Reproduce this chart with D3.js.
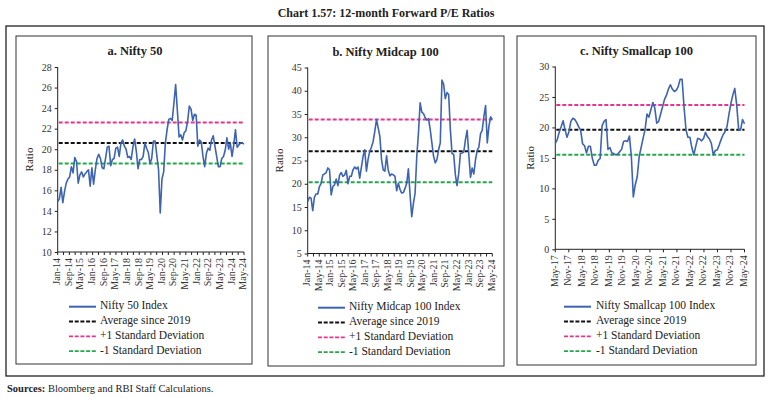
<!DOCTYPE html>
<html>
  <head>
    <meta charset="utf-8">
    <style>
      body { margin:0; background:#fff; }
      text { font-family: "Liberation Serif", "Times New Roman", serif; fill:#222; }
      .tick text { font-size:10px; fill:#333; }
      .domain, .tick line { stroke:#222; }
      .title { font-size:12px; font-weight:bold; }
      .ptitle { font-size:12.5px; font-weight:bold; }
      .legend text { font-size:11.5px; }
      .ylab { font-size:11px; }
      .src { font-size:10.5px; }
    </style>
    <script src="https://d3js.org/d3.v7.min.js"></script>
  </head>
  <body>
    <script>
      // tick labels
      const niftyTicks = ['Jan-14','Sep-14','May-15','Jan-16','Sep-16','May-17','Jan-18','Sep-18','May-19',
        'Jan-20','Sep-20','May-21','Jan-22','Sep-22','May-23','Jan-24','May-24']
      const midTicks = ['Jan-14','May-14','Jan-15','Sep-15','May-16','Jan-17','Sep-17','May-18','Jan-19',
        'Sep-19','May-20','Jan-21','Sep-21','May-22','Jan-23','Sep-23','May-24']
      const smallTicks = ['May-17','Nov-17','May-18','Nov-18','May-19','Nov-19','May-20','Nov-20','May-21',
        'Nov-21','May-22','Nov-22','May-23','Nov-23','May-24']

      // series
      const nifty50 = [14.9,15.2,16.3,14.8,15.9,16.7,17.1,17.3,18.3,17.7,19.2,18.8,16.7,17.5,17.8,17.3,17.6,17.8,
        18.0,16.4,18.2,16.6,18.0,19.1,19.5,19.1,18.2,18.1,19.1,20.2,20.3,18.4,19.0,19.1,20.1,20.2,19.3,20.6,
        20.9,20.3,20.0,19.2,19.3,19.0,20.2,21.0,19.8,18.1,19.0,19.0,19.3,20.6,20.1,19.7,18.6,19.1,20.8,20.8,
        19.4,18.0,13.8,17.1,17.8,20.6,21.9,22.9,23.0,22.8,24.5,26.3,23.8,21.2,21.4,20.9,21.6,21.8,22.7,24.2,
        23.9,22.8,23.4,23.3,20.3,20.9,20.7,19.3,18.3,19.6,20.1,19.9,20.9,21.3,20.3,19.3,18.3,18.3,19.1,19.3,
        19.9,21.1,20.0,20.6,19.3,20.4,21.9,20.2,20.4,20.6,20.6,20.5]
      const midcap100 = [16.2,17.1,16.9,14.2,17.1,17.8,17.8,19.4,20.1,21.9,22.1,22.4,23.4,23.0,17.6,19.4,19.8,
        21.0,19.6,21.9,22.4,21.6,21.9,22.9,20.0,21.6,21.6,23.0,23.6,23.2,23.6,21.2,23.6,25.9,27.3,22.7,25.3,
        27.0,27.9,29.1,31.3,33.8,32.0,30.2,25.2,23.0,22.7,26.0,22.9,21.7,22.1,21.9,21.6,18.5,20.1,18.8,18.0,
        18.1,19.0,20.1,23.2,17.6,12.9,15.8,18.0,25.9,30.9,37.4,35.4,35.1,34.2,33.7,34.0,31.7,28.8,25.9,24.5,
        25.2,27.3,28.8,42.3,41.4,38.3,39.6,39.2,31.7,26.5,26.3,21.9,19.6,22.3,26.5,26.6,26.8,29.5,31.5,26.3,
        21.4,23.4,22.1,25.2,27.2,27.9,30.8,31.5,34.5,36.8,28.8,32.4,34.4,33.8]
      const smallcap100 = [17.4,18.0,19.2,20.1,21.1,19.6,18.4,19.3,21.0,21.5,21.3,20.8,20.1,19.5,17.3,17.0,
        15.8,16.9,16.9,14.9,13.8,13.8,14.6,14.9,20.3,21.0,21.3,16.4,16.7,15.8,15.7,15.5,15.6,16.0,16.4,17.7,
        17.8,17.7,18.6,15.2,8.6,10.6,11.9,15.2,16.7,18.2,19.6,22.2,21.7,22.9,24.1,23.2,20.7,21.0,22.2,23.4,
        24.6,25.3,26.3,27.0,26.3,25.9,26.1,26.7,27.9,27.9,23.4,19.6,18.4,18.4,16.7,15.5,16.9,18.2,18.1,17.8,
        18.2,19.2,18.5,18.1,17.4,15.5,16.2,16.3,17.1,18.0,18.8,19.3,20.1,22.1,23.9,25.3,26.4,23.7,19.7,19.6,
        21.3,20.6]

      // average since 2019, +1 SD, -1 SD
      const niftyRefs = [20.6, 22.6, 18.6]
      const midRefs = [27.0, 33.8, 20.3]
      const smallRefs = [19.6, 23.7, 15.5]

      const refNames = ['Average since 2019','+1 Standard Deviation','-1 Standard Deviation']
      const refColors = ['#111','#e8358c','#25a84a']
      const lineColor = '#3d63b3'

      const panels = [
        {title:'a. Nifty 50', name:'Nifty 50 Index', values:nifty50, refs:niftyRefs, ticks:niftyTicks,
          domain:[10,28], step:2, minor:2,
          box:[16,36,236,328], x:[57.7,244], y:[67,252], leg:[69,100,306.7], ylab:30, tx:135, ty:55},
        {title:'b. Nifty Midcap 100', name:'Nifty Midcap 100 Index', values:midcap100, refs:midRefs, ticks:midTicks,
          domain:[5,45], step:5, minor:2,
          box:[268,36,236,330], x:[307.7,492.3], y:[67.5,253.5], leg:[318,349,307.7], ylab:280, tx:385.5, ty:56},
        {title:'c. Nifty Smallcap 100', name:'Nifty Smallcap 100 Index', values:smallcap100, refs:smallRefs, ticks:smallTicks,
          domain:[0,30], step:5, minor:1,
          box:[517,36,239,329], x:[555.3,744.5], y:[66.5,249.3], leg:[564,596,306.7], ylab:531, tx:636.5, ty:55}
      ]

      const svg = d3.select('body').append('svg')
        .attr('width',771).attr('height',398)

      svg.append('text').attr('class','title')
        .attr('x',386).attr('y',17).attr('text-anchor','middle')
        .text('Chart 1.57: 12-month Forward P/E Ratios')

      svg.append('rect')
        .attr('x',6).attr('y',26).attr('width',758).attr('height',350)
        .attr('fill','none').attr('stroke','#222').attr('stroke-width',1.3)

      panels.forEach(p => {
        const g = svg.append('g')
        g.append('rect')
          .attr('x',p.box[0]).attr('y',p.box[1]).attr('width',p.box[2]).attr('height',p.box[3])
          .attr('fill','none').attr('stroke','#333').attr('stroke-width',1)

        g.append('text').attr('class','ptitle')
          .attr('x',p.tx).attr('y',p.ty).attr('text-anchor','middle').text(p.title)

        const y = d3.scaleLinear().domain(p.domain).range([p.y[1],p.y[0]])
        const x = d3.scaleLinear().domain([0,p.values.length-1]).range(p.x)
        const xl = d3.scalePoint().domain(p.ticks).range(p.x)

        // minor tick positions between labels
        const nTicks = (p.ticks.length-1)*p.minor
        const xt = d3.scaleLinear().domain([0,nTicks]).range(p.x)

        const yAxis = g.append('g').attr('transform',`translate(${p.x[0]},0)`)
          .call(d3.axisLeft(y).tickValues(d3.range(p.domain[0],p.domain[1]+0.1,p.step))
            .tickSize(3).tickPadding(3))
        yAxis.select('.domain').attr('d',`M-0,${p.y[1]}V${p.y[0]}`)

        const xAxis = g.append('g').attr('transform',`translate(0,${p.y[1]})`)
        xAxis.append('path').attr('class','domain')
          .attr('d',`M${p.x[0]},0H${p.x[1]}`).attr('fill','none')
        xAxis.selectAll('line').data(d3.range(nTicks+1)).join('line')
          .attr('x1',d => xt(d)).attr('x2',d => xt(d)).attr('y1',0).attr('y2',3)
          .attr('stroke','#222')
        xAxis.selectAll('text').data(p.ticks).join('text')
          .attr('transform',d => `translate(${xl(d)},6) rotate(-90)`)
          .attr('text-anchor','end').attr('dominant-baseline','middle')
          .style('font-size','10px').style('fill','#333')
          .text(d => d)

        g.append('text').attr('class','ylab')
          .attr('transform',`translate(${p.ylab},${(p.y[0]+p.y[1])/2}) rotate(-90)`)
          .attr('text-anchor','middle').attr('dominant-baseline','middle').text('Ratio')

        // reference lines
        g.selectAll('.ref').data(p.refs).join('line').attr('class','ref')
          .attr('x1',p.x[0]+1).attr('x2',p.x[1])
          .attr('y1',d => y(d)).attr('y2',d => y(d))
          .attr('stroke',(d,i) => refColors[i]).attr('stroke-width',2)
          .attr('stroke-dasharray','4,2')

        g.append('path').datum(p.values)
          .attr('fill','none').attr('stroke',lineColor).attr('stroke-width',1.6)
          .attr('stroke-linejoin','round')
          .attr('d',d3.line().x((d,i) => x(i)).y(d => y(d)))

        // legend
        const names = [p.name].concat(refNames)
        const colors = [lineColor].concat(refColors)
        const leg = g.append('g').attr('class','legend')
        names.forEach((n,i) => {
          const ly = p.leg[2] + i*14.8
          leg.append('line')
            .attr('x1',p.leg[0]).attr('x2',p.leg[0]+27).attr('y1',ly).attr('y2',ly)
            .attr('stroke',colors[i]).attr('stroke-width',i ? 1.8 : 2)
            .attr('stroke-dasharray',i ? '4,1.7' : null)
          leg.append('text').attr('x',p.leg[1]).attr('y',ly)
            .attr('dominant-baseline','middle').text(n)
        })
      })

      const src = svg.append('text').attr('class','src').attr('x',7).attr('y',392)
      src.append('tspan').attr('font-weight','bold').text('Sources:')
      src.append('tspan').text(' Bloomberg and RBI Staff Calculations.')
    </script>
  </body>
</html>
